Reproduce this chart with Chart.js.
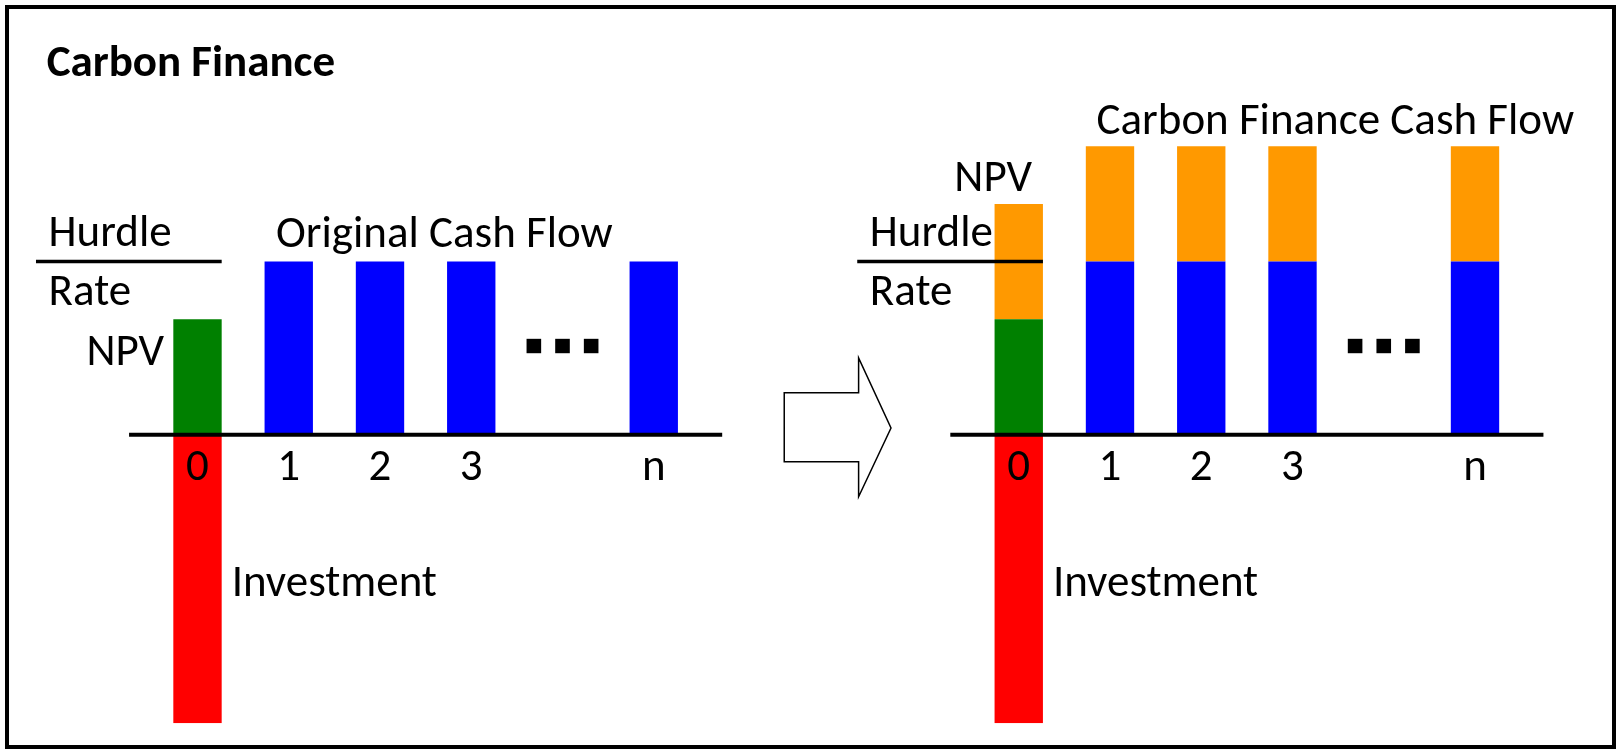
<!DOCTYPE html>
<html><head><meta charset="utf-8">
<script src="https://cdn.jsdelivr.net/npm/chart.js@4/dist/chart.umd.min.js"></script>
<style>html,body{margin:0;padding:0;background:#fff;overflow:hidden}canvas{display:block}</style>
</head><body>
<canvas id="c" width="1621" height="752"></canvas>
<script>
// ---- data ----
const categories = ['0', '1', '2', '3', '', 'n'];
const npv = [2, null, null, null, null, null];
const investment = [-5, null, null, null, null, null];
const originalCashFlow = [null, 3, 3, 3, null, 3];
const carbonFinanceCashFlow = [2, 2, 2, 2, null, 2];
const hurdleRate = 3;
const panelOffsets = [0, 9];   // left panel: without, right panel: with carbon finance

// ---- styles ----
const FONT = '"Calibri","Carlito","Open Sans",sans-serif';
const FONT_SIZE = 45;
const TITLE_SIZE = 45;
const COLORS = { npv: '#008000', investment: '#FF0000', original: '#0000FF', carbon: '#FF9900' };

function pts(arr, off) {
  const out = [];
  arr.forEach((v, i) => { if (v !== null) out.push({ x: i + off, y: v }); });
  return out;
}
const tickPositions = [];
panelOffsets.forEach(o => categories.forEach((c, i) => tickPositions.push(i + o)));
function tickLabel(v) {
  const o = v >= panelOffsets[1] ? panelOffsets[1] : panelOffsets[0];
  return categories[v - o] ?? '';
}

// text annotations (positions in axis units, relative to a panel)
const sharedLabels = [
  { text: 'Hurdle', u: -1.632, v: 3.27, align: 'left' },
  { text: 'Rate', u: -1.632, v: 2.24, align: 'left' },
  { text: 'Investment', u: 0.374, v: -2.80, align: 'left' }
];
const panelLabels = [
  [ { text: 'NPV', u: -0.367, v: 1.21, align: 'right' },
    { text: 'Original Cash Flow', u: 0.86, v: 3.26, align: 'left' } ],
  [ { text: 'NPV', u: 0.145, v: 4.23, align: 'right' },
    { text: 'Carbon Finance Cash Flow', u: 0.852, v: 5.22, align: 'left' } ]
];

const decor = {
  id: 'decor',
  beforeDraw(chart) {
    const ctx = chart.ctx;
    ctx.save();
    ctx.fillStyle = '#fff';
    ctx.fillRect(0, 0, chart.width, chart.height);
    ctx.restore();
  },
  afterDatasetsDraw(chart) {
    const { ctx } = chart;
    const xs = chart.scales.x, ys = chart.scales.y;
    const X = u => xs.getPixelForValue(u), Y = v => ys.getPixelForValue(v);
    ctx.save();
    ctx.strokeStyle = '#000';
    ctx.fillStyle = '#000';
    ctx.lineCap = 'butt';
    // category tick labels from the x scale's ticks
    ctx.font = FONT_SIZE + 'px ' + FONT;
    ctx.textAlign = 'center';
    ctx.textBaseline = 'alphabetic';
    xs.ticks.forEach(t => ctx.fillText(tickLabel(t.value), X(t.value), Y(-0.785)));
    panelOffsets.forEach((o, p) => {
      // x-axis baseline
      ctx.lineWidth = 4;
      ctx.beginPath(); ctx.moveTo(X(o - 0.75), Y(0)); ctx.lineTo(X(o + 5.75), Y(0)); ctx.stroke();
      // hurdle rate line
      ctx.lineWidth = 3.5;
      ctx.beginPath(); ctx.moveTo(X(o - 1.77), Y(hurdleRate)); ctx.lineTo(X(o + 0.265), Y(hurdleRate)); ctx.stroke();
      // ellipsis squares
      [-0.314, 0, 0.314].forEach(d => {
        const cx = X(o + 4 + d), cy = Y(1.537);
        ctx.fillRect(cx - 7.3, cy - 7.2, 14.6, 14.4);
      });
      // text labels
      sharedLabels.concat(panelLabels[p]).forEach(l => {
        ctx.textAlign = l.align;
        ctx.fillText(l.text, X(o + l.u), Y(l.v));
      });
    });
    // title
    ctx.font = 'bold ' + TITLE_SIZE + 'px ' + FONT;
    ctx.textAlign = 'left';
    ctx.fillText('Carbon Finance', X(-1.653), Y(6.217));
    // block arrow
    ctx.lineWidth = 1.5;
    ctx.fillStyle = '#fff';
    ctx.beginPath();
    ctx.moveTo(X(6.43), Y(0.728));
    ctx.lineTo(X(7.245), Y(0.728));
    ctx.lineTo(X(7.245), Y(1.33));
    ctx.lineTo(X(7.60), Y(0.116));
    ctx.lineTo(X(7.245), Y(-1.075));
    ctx.lineTo(X(7.245), Y(-0.468));
    ctx.lineTo(X(6.43), Y(-0.468));
    ctx.closePath();
    ctx.fill(); ctx.stroke();
    // frame
    ctx.lineWidth = 4;
    ctx.strokeRect(7, 7, chart.width - 14, chart.height - 12);
    ctx.restore();
  }
};

new Chart(document.getElementById('c'), {
  type: 'bar',
  data: {
    datasets: [
      { label: 'NPV', data: [].concat(...panelOffsets.map(o => pts(npv, o))), backgroundColor: COLORS.npv },
      { label: 'Investment', data: [].concat(...panelOffsets.map(o => pts(investment, o))), backgroundColor: COLORS.investment },
      { label: 'Original Cash Flow', data: [].concat(...panelOffsets.map(o => pts(originalCashFlow, o))), backgroundColor: COLORS.original },
      { label: 'Carbon Finance Cash Flow', data: pts(carbonFinanceCashFlow, panelOffsets[1]), backgroundColor: COLORS.carbon }
    ]
  },
  options: {
    responsive: false,
    animation: false,
    events: [],
    layout: { padding: { left: 15, right: 54.75, top: 88.5, bottom: 28.8 } },
    datasets: { bar: { barPercentage: 0.53, categoryPercentage: 1, borderWidth: 0 } },
    plugins: { legend: { display: false }, tooltip: { enabled: false } },
    scales: {
      x: {
        type: 'linear', min: -2, max: 15, stacked: true, offset: false,
        display: false,
        afterBuildTicks: s => { s.ticks = tickPositions.map(v => ({ value: v })); }
      },
      y: { type: 'linear', min: -5, max: 6, stacked: true, display: false }
    }
  },
  plugins: [decor]
});
</script>
</body></html>
